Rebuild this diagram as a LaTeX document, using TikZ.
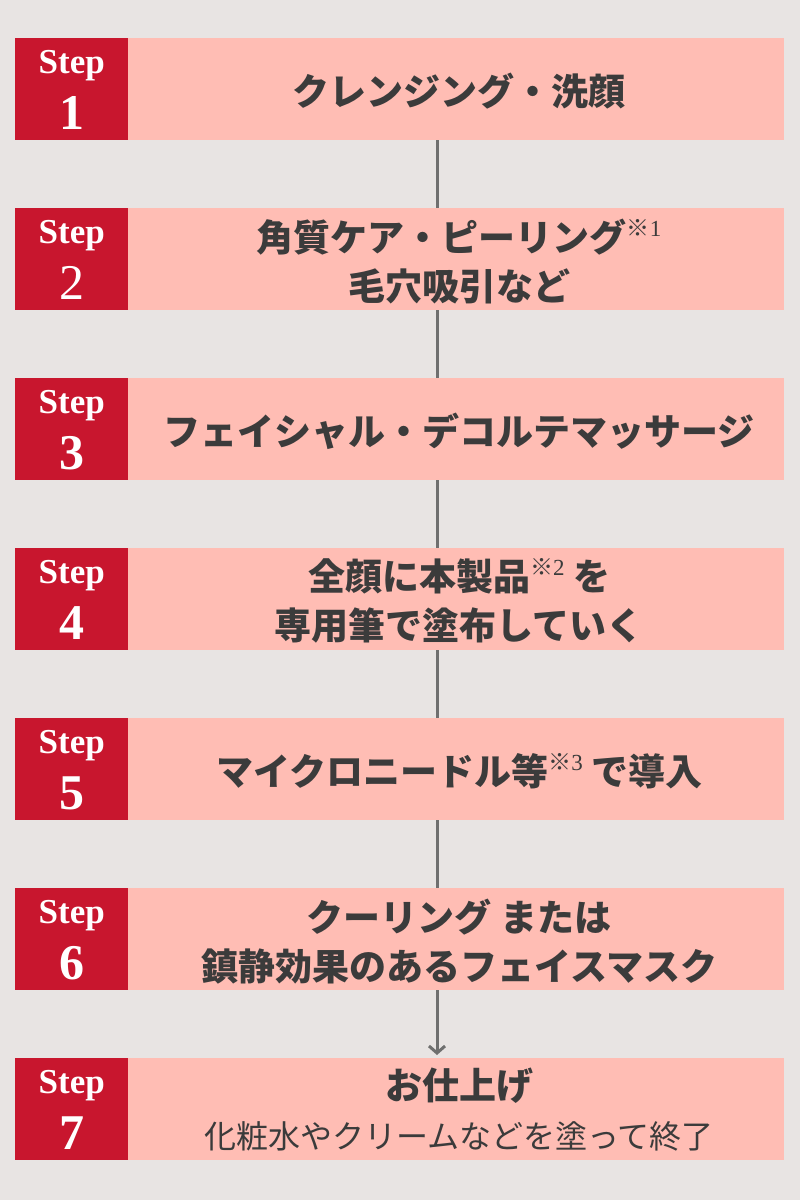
\documentclass[tikz,border=0pt]{standalone}
\usepackage{fontspec}
\usetikzlibrary{arrows.meta,calc}
\setmainfont{Liberation Serif}
\newfontfamily\jp{Noto Sans CJK JP}
\definecolor{bgc}{HTML}{E8E4E3}
\definecolor{redc}{HTML}{C8162E}
\definecolor{pinkc}{HTML}{FFBDB4}
\definecolor{txtc}{HTML}{3B3B3B}
\definecolor{linec}{HTML}{6F6F6F}
\newcommand{\note}[1]{\raisebox{0.4em}{\fontsize{23}{23}\selectfont\mdseries ※\rmfamily #1}}
\tikzset{
  pinkbox/.style={fill=pinkc, minimum width=656pt, minimum height=102pt, inner sep=0pt, anchor=north west},
  redbox/.style={fill=redc, minimum width=113pt, minimum height=102pt, inner sep=0pt, anchor=north west},
  title/.style={text=txtc, font=\jp\bfseries\fontsize{37}{49}\selectfont, align=center, inner sep=0pt},
  subtitle/.style={text=txtc, font=\jp\fontsize{32}{32}\selectfont, align=center, inner sep=0pt},
  steplbl/.style={text=white, font=\bfseries\fontsize{35}{35}\selectfont, anchor=base, inner sep=0pt},
  numlbl/.style={text=white, font=\bfseries\fontsize{50}{50}\selectfont, anchor=base, inner sep=0pt},
  conn/.style={draw=linec, line width=3pt},
}
\begin{document}
\begin{tikzpicture}[x=1pt,y=-1pt]
\fill[bgc] (0,0) rectangle (800,1200);
\path[use as bounding box] (0,0) rectangle (800,1200);
\coordinate (cx) at (437,0);
% boxes
\foreach \i in {1,...,7}{
  \pgfmathsetmacro{\yy}{38+170*(\i-1)}
  \node[redbox] (r\i) at (15,\yy) {};
  \node[pinkbox] (p\i) at (128,\yy) {};
  \node[steplbl] (sl\i) at ($(r\i.north)+(0,35)$) {Step};
}
\node[numlbl] (n1) at ($(r1.north)+(0,91)$) {1};
\node[numlbl, font=\mdseries\fontsize{50}{50}\selectfont] (n2) at ($(r2.north)+(0,91)$) {2};
\node[numlbl] (n3) at ($(r3.north)+(0,91)$) {3};
\node[numlbl] (n4) at ($(r4.north)+(0,91)$) {4};
\node[numlbl] (n5) at ($(r5.north)+(0,91)$) {5};
\node[numlbl] (n6) at ($(r6.north)+(0,91)$) {6};
\node[numlbl] (n7) at ($(r7.north)+(0,91)$) {7};
% titles
\node[title] (t1) at ($(p1.center)+(3,2)$) {クレンジング・洗顔};
\node[title] (t2) at ($(p2.center)+(3,2)$) {角質ケア・ピーリング\note{1}\\毛穴吸引など};
\node[title] (t3) at ($(p3.center)+(3,2)$) {フェイシャル・デコルテマッサージ};
\node[title] (t4) at ($(p4.center)+(3,2)$) {全顔に本製品\note{2} を\\専用筆で塗布していく};
\node[title] (t5) at ($(p5.center)+(3,2)$) {マイクロニードル等\note{3} で導入};
\node[title] (t6) at ($(p6.center)+(3,2)$) {クーリング または\\鎮静効果のあるフェイスマスク};
\node[title] (t7) at ($(p7.center)+(3,-24)$) {お仕上げ};
\node[subtitle] (t7b) at ($(p7.center)+(3,27)$) {化粧水やクリームなどを塗って終了};
% connectors
\draw[conn] (p1.south -| cx) -- (p2.north -| cx);
\draw[conn] (p2.south -| cx) -- (p3.north -| cx);
\draw[conn] (p3.south -| cx) -- (p4.north -| cx);
\draw[conn] (p4.south -| cx) -- (p5.north -| cx);
\draw[conn] (p5.south -| cx) -- (p6.north -| cx);
\draw[conn, -{Straight Barb[length=7pt,width=16pt,line width=3pt]}, shorten >=3pt] (p6.south -| cx) -- (p7.north -| cx);
\end{tikzpicture}
\end{document}
